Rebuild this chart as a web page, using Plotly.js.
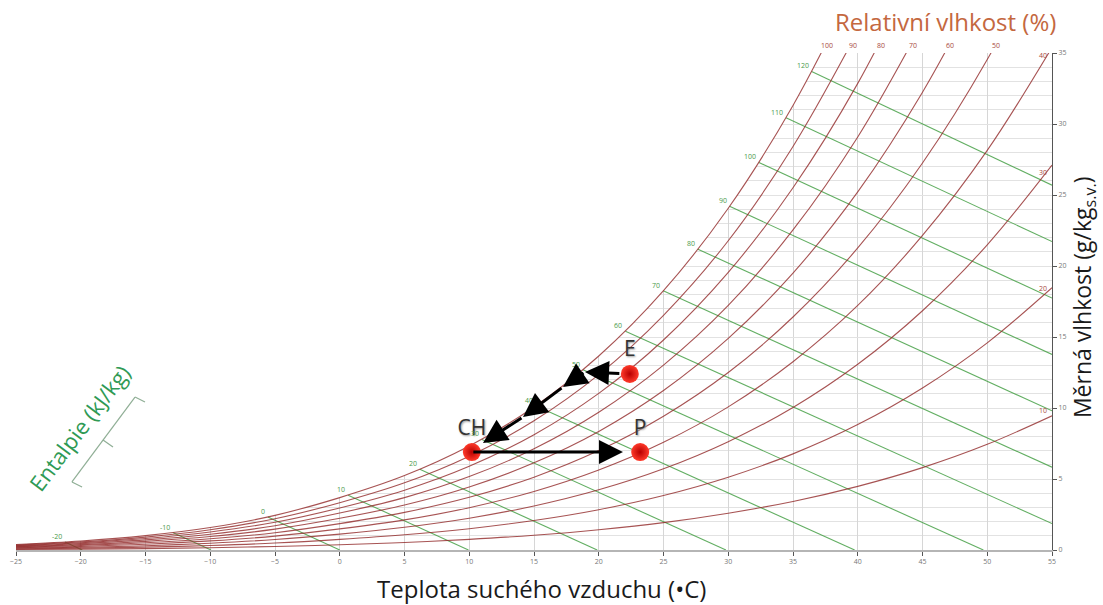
<!DOCTYPE html>
<html><head><meta charset="utf-8">
<script src="https://cdn.plot.ly/plotly-3.0.1.min.js"></script>
<style>html,body{margin:0;padding:0;background:#fff}#chart{width:1103px;height:605px}</style>
</head><body><div id="chart"></div>
<script>
// dry-bulb positions along the chart (°C)
const tempGrid = [-25,-20,-15,-10,-5,0,5,10,15,20,25,30,35,40,45,50,55];
// humidity ratio (g/kg) of each relative-humidity curve at the tempGrid positions
const rhLevels = ['100','90','80','70','60','50','40','30','20','10'];
const rh100 = [0.39,0.63,1.01,1.58,2.44,3.69,5.24,7.32,10.07,13.66,18.26,24.07,31.31,40.15];
const rh90  = [0.35,0.57,0.91,1.43,2.20,3.33,4.73,6.61,9.10,12.35,16.53,21.78,28.42,36.53];
const rh80  = [0.31,0.51,0.81,1.27,1.95,2.96,4.21,5.89,8.12,11.03,14.79,19.55,25.51,32.86,41.82];
const rh70  = [0.27,0.45,0.71,1.11,1.71,2.60,3.69,5.17,7.13,9.70,13.02,17.22,22.54,29.09,37.11];
const rh60  = [0.23,0.38,0.61,0.95,1.47,2.23,3.17,4.44,6.14,8.35,11.23,14.90,19.50,25.22,32.24,40.67];
const rh50  = [0.20,0.32,0.51,0.79,1.22,1.86,2.65,3.71,5.13,7.00,9.42,12.50,16.41,21.27,27.25,34.54,43.31];
const rh40  = [0.16,0.25,0.40,0.64,0.98,1.49,2.12,2.98,4.12,5.63,7.58,10.08,13.26,17.22,22.15,28.14,35.39];
const rh30  = [0.12,0.19,0.30,0.48,0.74,1.12,1.60,2.24,3.10,4.24,5.72,7.63,10.04,13.08,16.85,21.49,27.10];
const rh20  = [0.08,0.13,0.20,0.32,0.49,0.75,1.07,1.50,2.08,2.84,3.84,5.13,6.77,8.83,11.41,14.59,18.47];
const rh10  = [0.04,0.06,0.10,0.16,0.25,0.37,0.53,0.75,1.04,1.43,1.93,2.59,3.42,4.48,5.80,7.44,9.45];

// RH curve labels
const rhTopLabels = ['100','90','80','70','60','50'];
const rhTopLabelX = [37.6,39.6,41.8,44.3,47.1,50.7];
const rhSideLabels = ['40','30','20','10'];
const rhSideLabelW = [34.8,26.6,18.4,9.8];

// enthalpy lines (kJ/kg): start on saturation curve, end at W=0 or right edge
const enthalpyValues = [-20,-10,0,10,20,30,40,50,60,70,80,90,100,110,120];
const hStartX = [-21.22,-12.86,-5.55,0.65,6.18,10.97,15.13,18.79,22.06,24.98,27.66,30.10,32.37,34.46,36.44];
const hStartW = [0.56,1.22,2.32,3.86,5.68,7.79,10.15,12.70,15.41,18.25,21.18,24.20,27.29,30.44,33.70];
const hEndX   = [-19.88,-9.94,0,9.94,19.88,29.82,39.76,49.70,55,55,55,55,55,55,55];
const hEndW   = [0,0,0,0,0,0,0,0,1.86,5.83,9.80,13.77,17.74,21.72,25.69];

// process states
const stateNames = ['E','CH','P'];
const stateT = [22.4,10.2,23.2];
const stateW = [12.4,6.9,6.9];

// process arrows (tail -> head)
const arrowFromT = [22.4,18.94,17.24,14.15,10.2];
const arrowFromW = [12.4,12.54,11.48,9.37,6.9];
const arrowToT   = [18.94,17.24,14.15,11.06,21.87];
const arrowToW   = [12.54,11.48,9.37,7.54,6.9];

const rhSeries = [rh100,rh90,rh80,rh70,rh60,rh50,rh40,rh30,rh20,rh10];

const traces = [];
// white area above the saturation curve (hides grid there)
const satX = tempGrid.slice(0, rh100.length);
traces.push({x:satX, y:rh100, mode:'lines', line:{width:0, shape:'spline'}, hoverinfo:'skip', showlegend:false});
traces.push({x:satX, y:satX.map(()=>36), mode:'lines', line:{width:0}, fill:'tonexty', fillcolor:'#ffffff', hoverinfo:'skip', showlegend:false});

// enthalpy lines
const hx=[], hy=[];
enthalpyValues.forEach((h,i)=>{hx.push(hStartX[i],hEndX[i],null); hy.push(hStartW[i],hEndW[i],null);});
traces.push({x:hx, y:hy, mode:'lines', line:{color:'rgba(70,160,70,0.85)', width:1.1}, hoverinfo:'skip', showlegend:false});

// RH curves
rhSeries.forEach((s,i)=>{
  traces.push({x:tempGrid.slice(0,s.length), y:s, mode:'lines', name:rhLevels[i]+' %',
    line:{color:'rgba(145,40,40,0.8)', width:1.1, shape:'spline'}, hoverinfo:'skip', showlegend:false});
});

// process states
traces.push({x:stateT, y:stateW, mode:'markers+text', text:stateNames, textposition:'top center',
  textfont:{family:'Open Sans', size:21, color:'#333', shadow:'1px 1px 2px #999'},
  marker:{size:18, color:'#ff3a2a', gradient:{type:'radial', color:'#b80000'}, line:{width:0}},
  hoverinfo:'skip', showlegend:false, cliponaxis:false});

const ann = [];
enthalpyValues.forEach((h,i)=>{
  ann.push({x:hStartX[i], y:hStartW[i], xref:'x', yref:'y', text:String(h), showarrow:false,
    xanchor:'right', yanchor:'bottom', xshift:-1, yshift:-1, font:{family:'Open Sans', size:7, color:'#4a9a4a'}});
});
rhTopLabels.forEach((t,i)=>{
  ann.push({x:rhTopLabelX[i], y:35, xref:'x', yref:'y', text:t, showarrow:false, xanchor:'center', yanchor:'bottom', yshift:1,
    font:{family:'Open Sans', size:7, color:'#a8483e'}});
});
rhSideLabels.forEach((t,i)=>{
  ann.push({x:54.3, y:rhSideLabelW[i], xref:'x', yref:'y', text:t, showarrow:false, xanchor:'center', yanchor:'middle',
    font:{family:'Open Sans', size:7, color:'#a8483e'}});
});
arrowFromT.forEach((t,i)=>{
  ann.push({x:arrowToT[i], y:arrowToW[i], ax:t, ay:arrowFromW[i], xref:'x', yref:'y', axref:'x', ayref:'y',
    text:'', showarrow:true, arrowhead:2, arrowsize:1.6, arrowwidth:3, arrowcolor:'#000',
    startstandoff:(i===0?9:0), standoff:0});
});
// titles
ann.push({xref:'paper', yref:'paper', x:0.897, y:1.0624, xanchor:'center', yanchor:'middle', text:'Relativní vlhkost (%)', showarrow:false,
  font:{family:'Open Sans', size:24, color:'#c4683f'}});
ann.push({xref:'paper', yref:'paper', x:0.507, y:-0.0765, xanchor:'center', yanchor:'middle', text:'Teplota suchého vzduchu (•C)', showarrow:false,
  font:{family:'Open Sans', size:24, color:'#1a1a1a'}});
ann.push({xref:'paper', yref:'paper', x:1.030, y:0.509, xanchor:'center', yanchor:'middle', text:'Měrná vlhkost (g/kg<sub>s.v.</sub>)', showarrow:false,
  textangle:-90, font:{family:'Open Sans', size:23, color:'#1a1a1a'}});
ann.push({xref:'paper', yref:'paper', x:0.0608, y:0.2455, xanchor:'center', yanchor:'middle', text:'Entalpie (kJ/kg)', showarrow:false,
  textangle:-53, font:{family:'Open Sans', size:22, color:'#2f9a55'}});

const brk = {type:'line', xref:'x', yref:'y', line:{color:'#8fae95', width:1.2}};
const shapes = [
  Object.assign({}, brk, {x0:-15.81, y0:10.77, x1:-20.68, y1:4.79}),
  Object.assign({}, brk, {x0:-15.81, y0:10.77, x1:-15.04, y1:10.42}),
  Object.assign({}, brk, {x0:-20.68, y0:4.79, x1:-19.90, y1:4.44}),
  Object.assign({}, brk, {x0:-18.28, y0:7.75, x1:-17.51, y1:7.25})
];

const layout = {
  width:1103, height:605, margin:{l:16, r:51, t:53, b:55},
  paper_bgcolor:'#fff', plot_bgcolor:'#fff', hovermode:false, showlegend:false,
  font:{family:'Open Sans'},
  xaxis:{range:[-25,55], tick0:0, dtick:5, showgrid:true, gridcolor:'#d6d6d6', gridwidth:1, zeroline:false,
    showline:true, linecolor:'#b5b5b5', linewidth:2, ticks:'outside', ticklen:4, tickcolor:'#555',
    tickfont:{size:7, color:'#777'}, fixedrange:true},
  yaxis:{range:[0,35], side:'right', tick0:0, dtick:5, showgrid:true, gridcolor:'#e2e2e2', zeroline:false,
    minor:{dtick:1, showgrid:true, gridcolor:'#e2e2e2', gridwidth:1},
    showline:true, linecolor:'#555', linewidth:1, ticks:'outside', ticklen:4, tickcolor:'#555',
    tickfont:{size:7, color:'#777'}, fixedrange:true},
  annotations:ann, shapes:shapes
};
Plotly.newPlot('chart', traces, layout, {displayModeBar:false, staticPlot:true});
</script>
</body></html>
